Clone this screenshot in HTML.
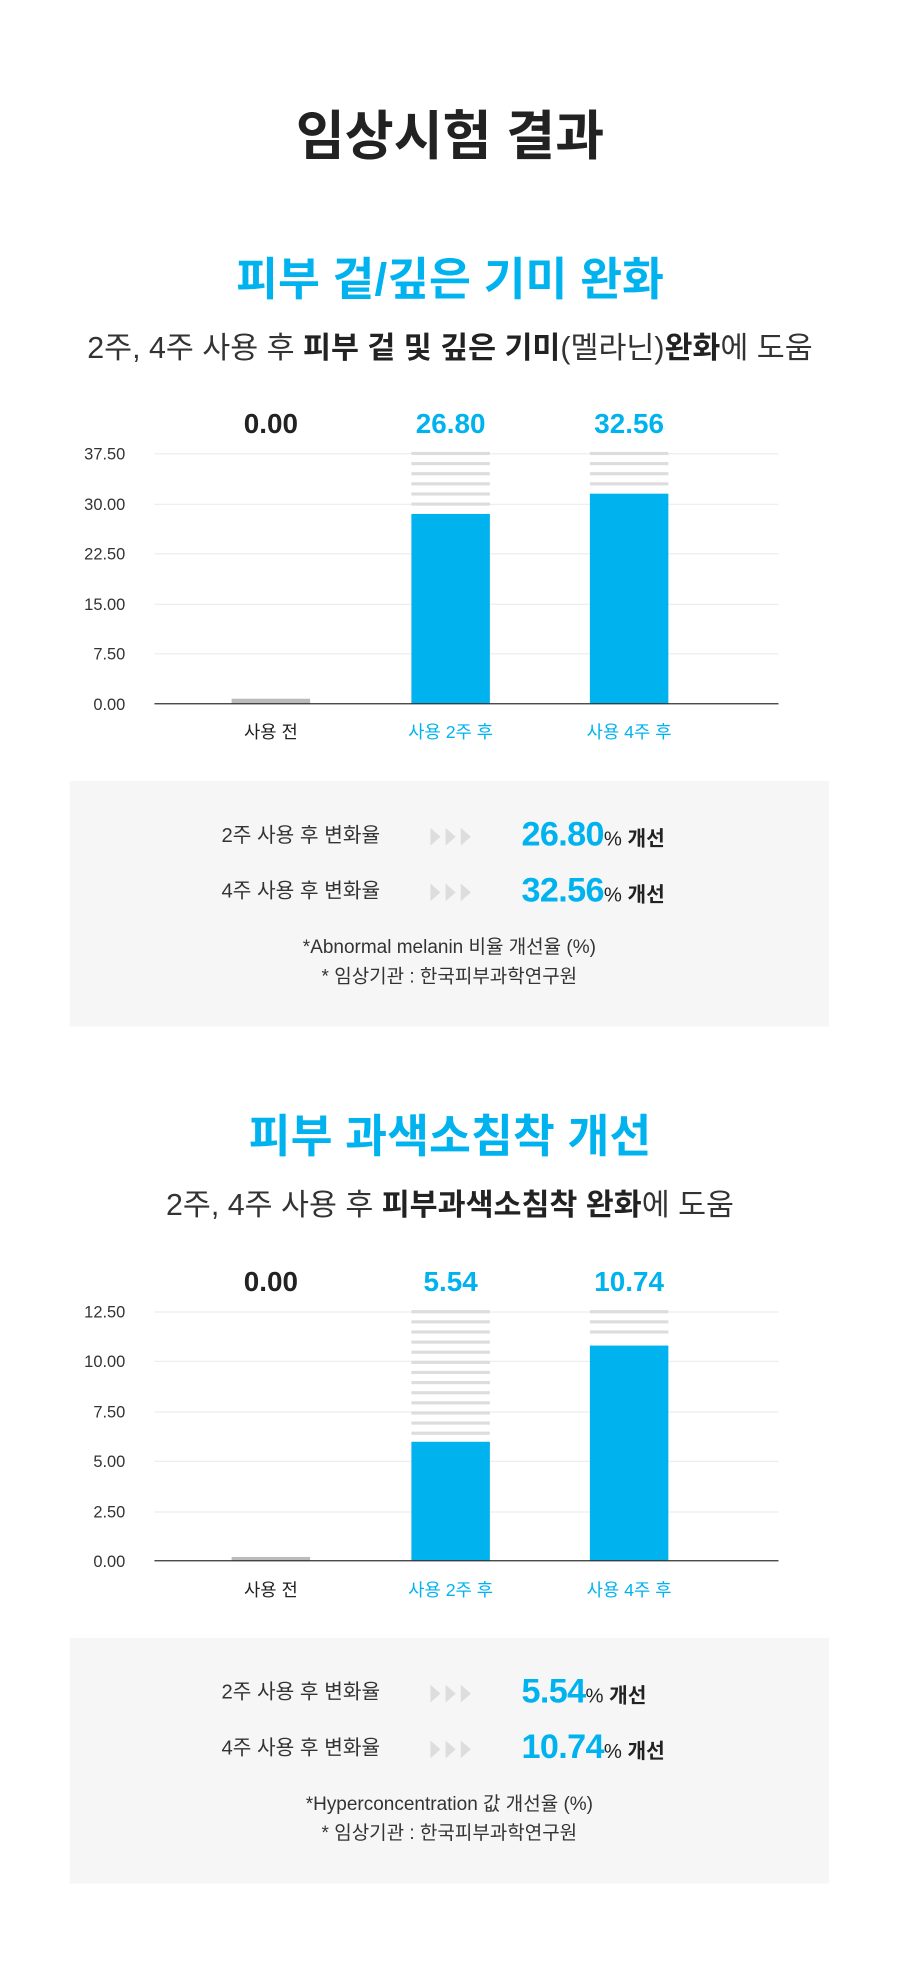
<!DOCTYPE html>
<html><head><meta charset="utf-8"><style>
html,body{margin:0;padding:0;background:#fff;width:900px;height:1984px;overflow:hidden}
#w{position:absolute;left:0;top:0;width:711px;height:1568px;transform:scale(1.26582);transform-origin:0 0;font-family:"Liberation Sans","Noto Sans CJK KR",sans-serif;}
.t{position:absolute;left:0;width:711px;text-align:center;white-space:nowrap}
svg text{font-family:"Liberation Sans","Noto Sans CJK KR",sans-serif}
.box{position:absolute;left:55px;width:600px;height:194px;background:#f6f6f6}
.row{position:absolute;left:0;width:600px;height:30px}
.row .l{position:absolute;left:120px;top:0;font-size:16px;color:#333;line-height:30px}
.row .a{position:absolute;left:285px;top:8px}
.row .v{position:absolute;left:357px;top:-4px;font-size:27px;font-weight:bold;color:#00b3ef;line-height:34px;letter-spacing:-0.5px}
.row .v span{font-size:16px;color:#222;font-weight:bold;letter-spacing:0}
.row .v span i{font-style:normal;font-weight:normal}
.note{position:absolute;left:0;width:600px;text-align:center;font-size:15px;color:#333;line-height:23px}
</style></head><body><div id="w">
<div class="t" style="top:74px;font-size:42px;font-weight:bold;color:#222">임상시험 결과</div>

<div class="t" style="top:192px;font-size:36px;font-weight:bold;color:#00b3ef">피부 겉/깊은 기미 완화</div>
<div class="t" style="top:255px;font-size:24px;color:#333">2주, 4주 사용 후 <b style="color:#222">피부 겉 및 깊은 기미</b>(멜라닌)<b style="color:#222">완화</b>에 도움</div>

<svg style="position:absolute;left:0;top:0" width="711" height="1568">
<g font-size="13" fill="#333" text-anchor="end">
<text x="99" y="363">37.50</text><text x="99" y="403">30.00</text><text x="99" y="442">22.50</text><text x="99" y="482">15.00</text><text x="99" y="521">7.50</text><text x="99" y="561">0.00</text>
</g>
<g stroke="#eee" stroke-width="1"><line x1="122" x2="615" y1="358.5" y2="358.5"/><line x1="122" x2="615" y1="398.5" y2="398.5"/><line x1="122" x2="615" y1="437.5" y2="437.5"/><line x1="122" x2="615" y1="477.5" y2="477.5"/><line x1="122" x2="615" y1="516.5" y2="516.5"/></g>
<g fill="#ddd">
<rect x="325" y="357" width="62" height="2.5"/><rect x="325" y="365" width="62" height="2.5"/><rect x="325" y="373" width="62" height="2.5"/><rect x="325" y="381" width="62" height="2.5"/><rect x="325" y="389" width="62" height="2.5"/><rect x="325" y="397" width="62" height="2.5"/>
<rect x="466" y="357" width="62" height="2.5"/><rect x="466" y="365" width="62" height="2.5"/><rect x="466" y="373" width="62" height="2.5"/><rect x="466" y="381" width="62" height="2.5"/>
</g>
<rect x="183" y="552" width="62" height="4" fill="#bbb"/>
<rect x="325" y="406" width="62" height="150" fill="#00b3ef"/>
<rect x="466" y="390" width="62" height="166" fill="#00b3ef"/>
<line x1="122" x2="615" y1="556" y2="556" stroke="#333" stroke-width="1"/>
<g font-size="22" font-weight="bold" text-anchor="middle"><text x="214" y="342" fill="#222">0.00</text><text x="356" y="342" fill="#00b3ef">26.80</text><text x="497" y="342" fill="#00b3ef">32.56</text></g>
<g font-size="14" text-anchor="middle"><text x="214" y="583" fill="#222">사용 전</text><text x="356" y="583" fill="#00b3ef">사용 2주 후</text><text x="497" y="583" fill="#00b3ef">사용 4주 후</text></g>

<g font-size="13" fill="#333" text-anchor="end">
<text x="99" y="1041">12.50</text><text x="99" y="1080">10.00</text><text x="99" y="1120">7.50</text><text x="99" y="1159">5.00</text><text x="99" y="1199">2.50</text><text x="99" y="1238">0.00</text>
</g>
<g stroke="#eee" stroke-width="1"><line x1="122" x2="615" y1="1036.5" y2="1036.5"/><line x1="122" x2="615" y1="1075.5" y2="1075.5"/><line x1="122" x2="615" y1="1115.5" y2="1115.5"/><line x1="122" x2="615" y1="1154.5" y2="1154.5"/><line x1="122" x2="615" y1="1194.5" y2="1194.5"/></g>
<g fill="#ddd">
<rect x="325" y="1035" width="62" height="2.5"/><rect x="325" y="1043" width="62" height="2.5"/><rect x="325" y="1051" width="62" height="2.5"/><rect x="325" y="1059" width="62" height="2.5"/><rect x="325" y="1067" width="62" height="2.5"/><rect x="325" y="1075" width="62" height="2.5"/><rect x="325" y="1083" width="62" height="2.5"/><rect x="325" y="1091" width="62" height="2.5"/><rect x="325" y="1099" width="62" height="2.5"/><rect x="325" y="1107" width="62" height="2.5"/><rect x="325" y="1115" width="62" height="2.5"/><rect x="325" y="1123" width="62" height="2.5"/><rect x="325" y="1131" width="62" height="2.5"/>
<rect x="466" y="1035" width="62" height="2.5"/><rect x="466" y="1043" width="62" height="2.5"/><rect x="466" y="1051" width="62" height="2.5"/>
</g>
<rect x="183" y="1230" width="62" height="3" fill="#bbb"/>
<rect x="325" y="1139" width="62" height="94" fill="#00b3ef"/>
<rect x="466" y="1063" width="62" height="170" fill="#00b3ef"/>
<line x1="122" x2="615" y1="1233" y2="1233" stroke="#333" stroke-width="1"/>
<g font-size="22" font-weight="bold" text-anchor="middle"><text x="214" y="1020" fill="#222">0.00</text><text x="356" y="1020" fill="#00b3ef">5.54</text><text x="497" y="1020" fill="#00b3ef">10.74</text></g>
<g font-size="14" text-anchor="middle"><text x="214" y="1261" fill="#222">사용 전</text><text x="356" y="1261" fill="#00b3ef">사용 2주 후</text><text x="497" y="1261" fill="#00b3ef">사용 4주 후</text></g>
</svg>

<div class="box" style="top:617px">
<div class="row" style="top:29px"><div class="l">2주 사용 후 변화율</div><svg class="a" width="34" height="14"><g fill="#ddd"><path d="M0 0L8 7L0 14Z"/><path d="M12 0L20 7L12 14Z"/><path d="M24 0L32 7L24 14Z"/></g></svg><div class="v">26.80<span><i>%</i> 개선</span></div></div>
<div class="row" style="top:73px"><div class="l">4주 사용 후 변화율</div><svg class="a" width="34" height="14"><g fill="#ddd"><path d="M0 0L8 7L0 14Z"/><path d="M12 0L20 7L12 14Z"/><path d="M24 0L32 7L24 14Z"/></g></svg><div class="v">32.56<span><i>%</i> 개선</span></div></div>
<div class="note" style="top:120px">*Abnormal melanin 비율 개선율 (%)</div>
<div class="note" style="top:143px">* 임상기관 : 한국피부과학연구원</div>
</div>

<div class="t" style="top:869px;font-size:36px;font-weight:bold;color:#00b3ef">피부 과색소침착 개선</div>
<div class="t" style="top:932px;font-size:24px;color:#333">2주, 4주 사용 후 <b style="color:#222">피부과색소침착 완화</b>에 도움</div>

<div class="box" style="top:1294px">
<div class="row" style="top:29px"><div class="l">2주 사용 후 변화율</div><svg class="a" width="34" height="14"><g fill="#ddd"><path d="M0 0L8 7L0 14Z"/><path d="M12 0L20 7L12 14Z"/><path d="M24 0L32 7L24 14Z"/></g></svg><div class="v">5.54<span><i>%</i> 개선</span></div></div>
<div class="row" style="top:73px"><div class="l">4주 사용 후 변화율</div><svg class="a" width="34" height="14"><g fill="#ddd"><path d="M0 0L8 7L0 14Z"/><path d="M12 0L20 7L12 14Z"/><path d="M24 0L32 7L24 14Z"/></g></svg><div class="v">10.74<span><i>%</i> 개선</span></div></div>
<div class="note" style="top:120px">*Hyperconcentration 값 개선율 (%)</div>
<div class="note" style="top:143px">* 임상기관 : 한국피부과학연구원</div>
</div>
</div></body></html>
